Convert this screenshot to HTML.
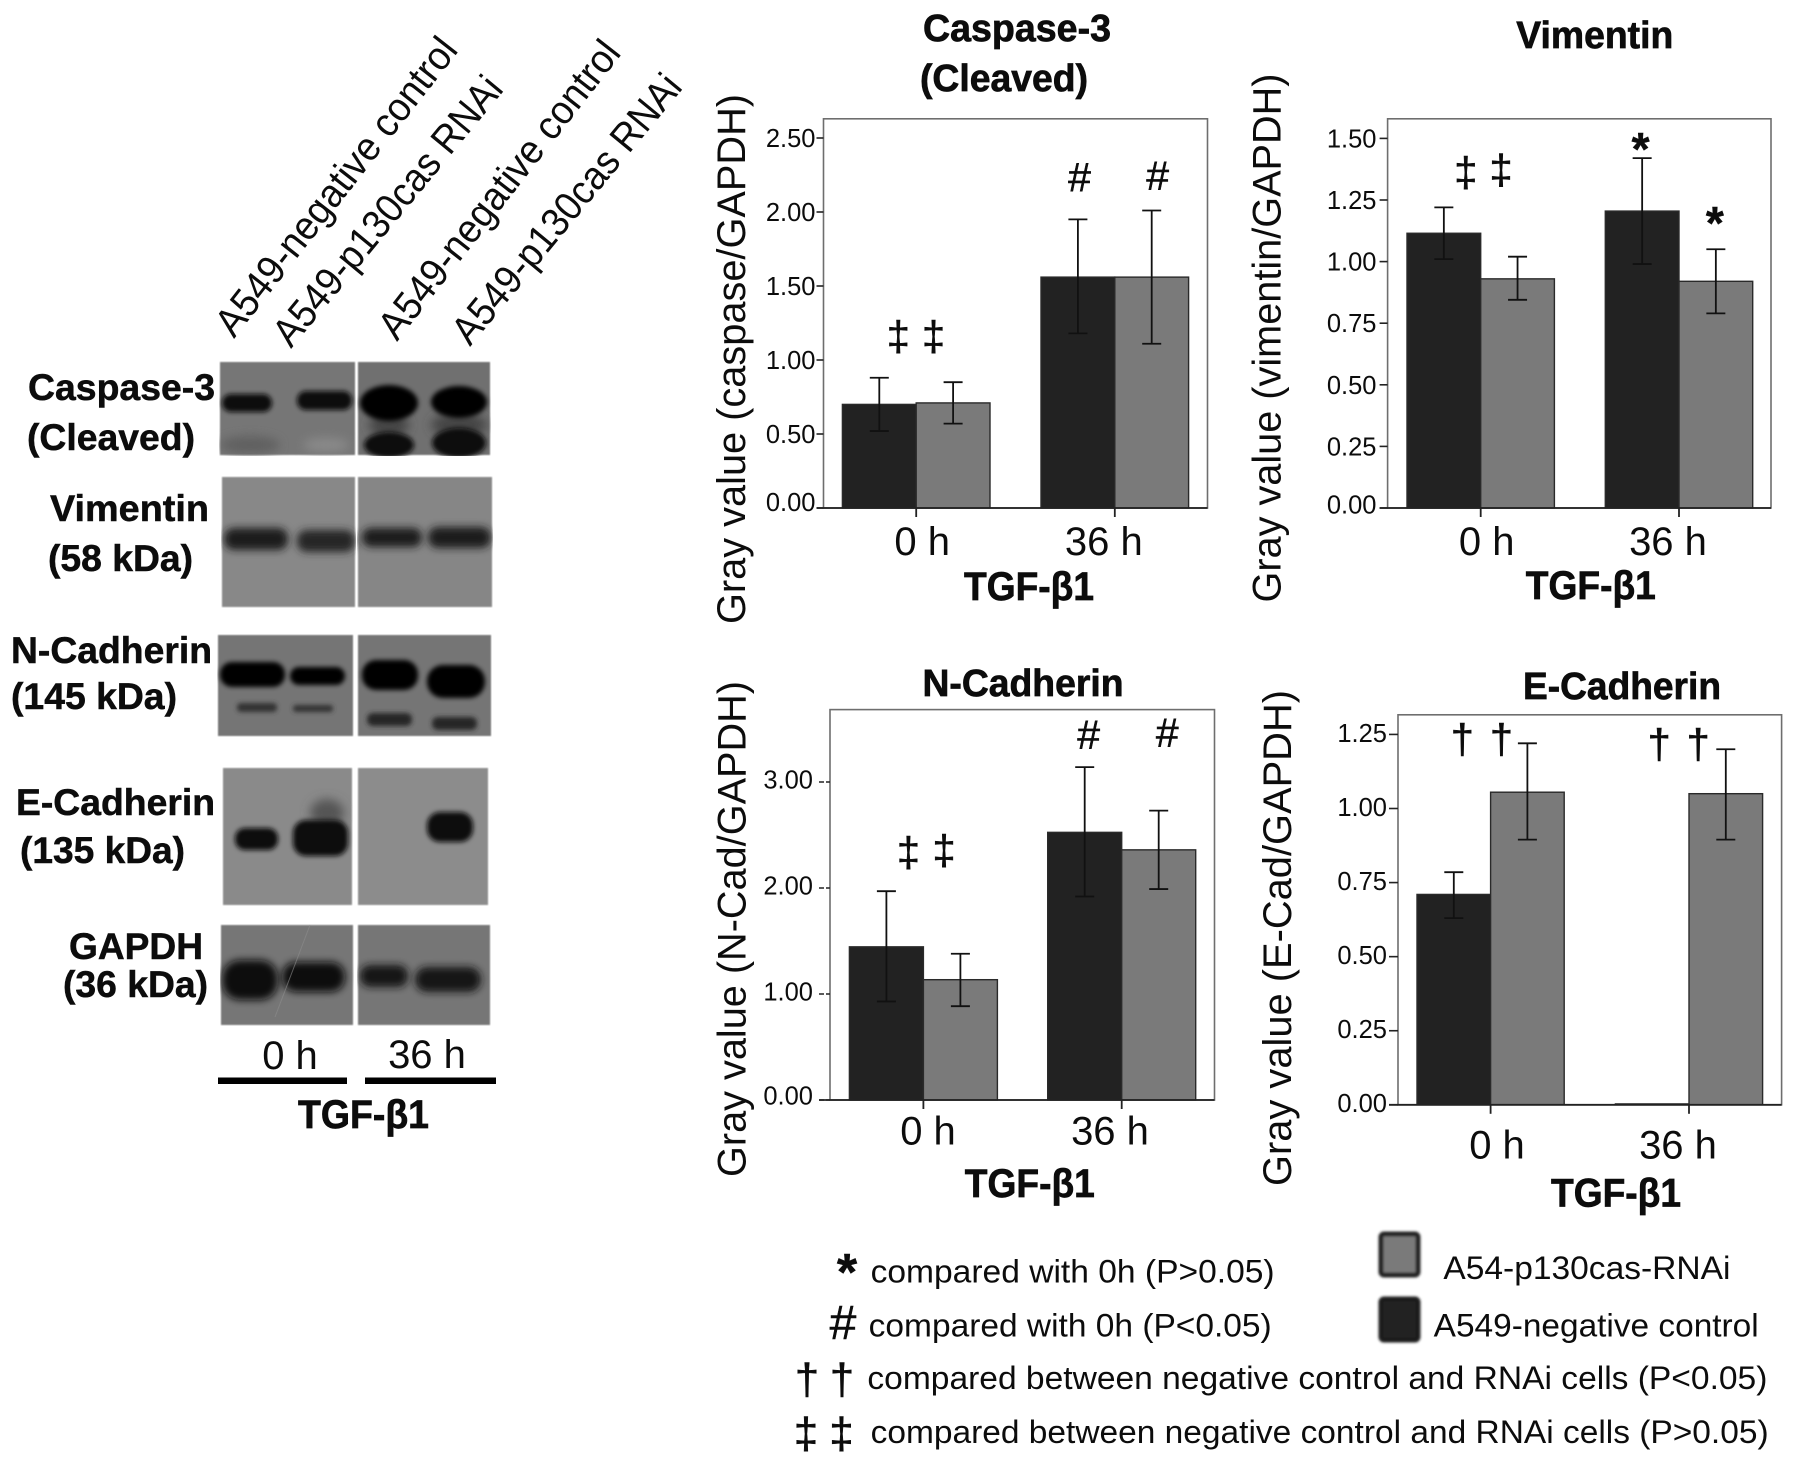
<!DOCTYPE html>
<html lang="en">
<head>
<meta charset="utf-8">
<title>Caspase-3, Vimentin, N-Cadherin and E-Cadherin western blots with quantification</title>
<style>
html,body{margin:0;padding:0;background:#fff;}
svg{display:block;}
text{font-family:"Liberation Sans",Arial,sans-serif;fill:#0c0c0c;}
.blab{font-weight:bold;font-size:37px;stroke:#0c0c0c;stroke-width:.5;}
.rot{font-size:40px;}
.leg{font-size:32px;}
.sym{font-size:44px;stroke:#0c0c0c;stroke-width:.5;}
.heavy{stroke:#0c0c0c;stroke-width:.7;}
</style>
</head>
<body>
<svg id="fig" width="1795" height="1460" viewBox="0 0 1795 1460" xmlns="http://www.w3.org/2000/svg">
<defs>
<filter id="b1" x="-40%" y="-80%" width="180%" height="260%"><feGaussianBlur stdDeviation="2.5"/></filter>
<filter id="b2" x="-40%" y="-80%" width="180%" height="260%"><feGaussianBlur stdDeviation="5"/></filter>
<filter id="b3" x="-40%" y="-80%" width="180%" height="260%"><feGaussianBlur stdDeviation="4"/></filter>
<filter id="b0" x="-5%" y="-5%" width="110%" height="110%"><feGaussianBlur stdDeviation="0.8"/></filter>
<filter id="bs" x="-20%" y="-20%" width="140%" height="140%"><feGaussianBlur stdDeviation="1.3"/></filter>
<clipPath id="cpCas"><rect x="219" y="361" width="137" height="95"/><rect x="357" y="361" width="134" height="95"/></clipPath>
<clipPath id="cpVim"><rect x="221" y="476" width="135" height="132"/><rect x="357" y="476" width="136" height="132"/></clipPath>
<clipPath id="cpNcad"><rect x="217" y="634" width="137" height="103"/><rect x="357" y="634" width="135" height="103"/></clipPath>
<clipPath id="cpEcad"><rect x="222" y="767" width="131" height="139"/><rect x="357" y="767" width="132" height="139"/></clipPath>
<clipPath id="cpGap"><rect x="220" y="924" width="134" height="102"/><rect x="357" y="924" width="134" height="102"/></clipPath>
</defs>
<rect width="1795" height="1460" fill="#fff"/>

<!-- lane headers -->
<g>
<text class="rot" transform="translate(234,339) rotate(-52)" textLength="366" lengthAdjust="spacingAndGlyphs">A549-negative control</text>
<text class="rot" transform="translate(291,349) rotate(-50.5)" textLength="336" lengthAdjust="spacingAndGlyphs">A549-p130cas RNAi</text>
<text class="rot" transform="translate(397,342) rotate(-52)" textLength="366" lengthAdjust="spacingAndGlyphs">A549-negative control</text>
<text class="rot" transform="translate(470,347) rotate(-50.5)" textLength="336" lengthAdjust="spacingAndGlyphs">A549-p130cas RNAi</text>
</g>

<!-- blot row labels -->
<g>
<text class="blab" x="28" y="400" textLength="187" lengthAdjust="spacingAndGlyphs">Caspase-3</text>
<text class="blab" x="27" y="450" textLength="168" lengthAdjust="spacingAndGlyphs">(Cleaved)</text>
<text class="blab" x="50" y="521" textLength="159" lengthAdjust="spacingAndGlyphs">Vimentin</text>
<text class="blab" x="48" y="571" textLength="145" lengthAdjust="spacingAndGlyphs">(58 kDa)</text>
<text class="blab" x="11" y="663" textLength="201" lengthAdjust="spacingAndGlyphs">N-Cadherin</text>
<text class="blab" x="11" y="709" textLength="166" lengthAdjust="spacingAndGlyphs">(145 kDa)</text>
<text class="blab" x="16" y="815" textLength="199" lengthAdjust="spacingAndGlyphs">E-Cadherin</text>
<text class="blab" x="20" y="863" textLength="165" lengthAdjust="spacingAndGlyphs">(135 kDa)</text>
<text class="blab" x="69" y="959" textLength="134" lengthAdjust="spacingAndGlyphs">GAPDH</text>
<text class="blab" x="63" y="997" textLength="145" lengthAdjust="spacingAndGlyphs">(36 kDa)</text>
</g>

<!-- blots -->
<g clip-path="url(#cpCas)">
<rect x="220" y="362" width="135" height="93" fill="#767676" filter="url(#b0)"/>
<rect x="358" y="362" width="132" height="93" fill="#707070" filter="url(#b0)"/>
<ellipse cx="250" cy="445" rx="30" ry="9" fill="#606060" filter="url(#b2)"/>
<ellipse cx="326" cy="445" rx="23" ry="7" fill="#8a8a8a" filter="url(#b2)"/>
<rect x="222" y="394" width="50" height="18" rx="9" fill="#0e0e0e" filter="url(#b1)"/>
<rect x="297" y="391" width="55" height="19" rx="9" fill="#0e0e0e" filter="url(#b1)"/>
<ellipse cx="389" cy="425" rx="20" ry="12" fill="#444" filter="url(#b2)"/>
<ellipse cx="459" cy="425" rx="28" ry="12" fill="#444" filter="url(#b2)"/>
<ellipse cx="389" cy="403" rx="29" ry="18" fill="#060606" filter="url(#b1)"/>
<ellipse cx="459" cy="402" rx="28" ry="16" fill="#060606" filter="url(#b1)"/>
<ellipse cx="389" cy="445" rx="25" ry="13" fill="#0c0c0c" filter="url(#b1)"/>
<ellipse cx="459" cy="443" rx="27" ry="15" fill="#0c0c0c" filter="url(#b1)"/>
</g>
<g clip-path="url(#cpVim)">
<rect x="222" y="477" width="133" height="130" fill="#888" filter="url(#b0)"/>
<rect x="358" y="477" width="134" height="130" fill="#868686" filter="url(#b0)"/>
<rect x="224" y="528" width="64" height="22" rx="10" fill="#1a1a1a" filter="url(#b3)"/>
<rect x="297" y="530" width="58" height="22" rx="10" fill="#262626" filter="url(#b3)"/>
<rect x="362" y="528" width="60" height="19" rx="9" fill="#1e1e1e" filter="url(#b3)"/>
<rect x="428" y="527" width="63" height="21" rx="10" fill="#1a1a1a" filter="url(#b3)"/>
</g>
<g clip-path="url(#cpNcad)">
<rect x="218" y="635" width="135" height="101" fill="#747474" filter="url(#b0)"/>
<rect x="358" y="635" width="133" height="101" fill="#747474" filter="url(#b0)"/>
<rect x="220" y="662" width="65" height="25" rx="12" fill="#060606" filter="url(#b1)"/>
<rect x="290" y="667" width="55" height="18" rx="9" fill="#060606" filter="url(#b1)"/>
<rect x="237" y="703" width="40" height="9" rx="4" fill="#333" filter="url(#b1)"/>
<rect x="293" y="705" width="40" height="7" rx="3" fill="#333" filter="url(#b1)"/>
<rect x="362" y="660" width="56" height="30" rx="14" fill="#060606" filter="url(#b1)"/>
<rect x="427" y="665" width="58" height="33" rx="16" fill="#060606" filter="url(#b1)"/>
<rect x="367" y="713" width="45" height="13" rx="6" fill="#252525" filter="url(#b1)"/>
<rect x="432" y="717" width="45" height="13" rx="6" fill="#252525" filter="url(#b1)"/>
</g>
<g clip-path="url(#cpEcad)">
<rect x="223" y="768" width="129" height="137" fill="#8a8a8a" filter="url(#b0)"/>
<rect x="358" y="768" width="130" height="137" fill="#8c8c8c" filter="url(#b0)"/>
<ellipse cx="327" cy="813" rx="17" ry="14" fill="#555" filter="url(#b2)"/>
<rect x="235" y="828" width="43" height="22" rx="10" fill="#0e0e0e" filter="url(#b1)"/>
<rect x="293" y="820" width="55" height="36" rx="13" fill="#0a0a0a" filter="url(#b1)"/>
<rect x="427" y="812" width="46" height="30" rx="13" fill="#0a0a0a" filter="url(#b1)"/>
</g>
<g clip-path="url(#cpGap)">
<rect x="221" y="925" width="132" height="100" fill="#767676" filter="url(#b0)"/>
<rect x="358" y="925" width="132" height="100" fill="#767676" filter="url(#b0)"/>
<rect x="222" y="960" width="56" height="40" rx="18" fill="#0e0e0e" filter="url(#b3)"/>
<rect x="282" y="962" width="63" height="30" rx="14" fill="#0e0e0e" filter="url(#b3)"/>
<rect x="360" y="965" width="48" height="22" rx="10" fill="#141414" filter="url(#b3)"/>
<rect x="415" y="967" width="66" height="25" rx="12" fill="#141414" filter="url(#b3)"/>
<line x1="310" y1="925" x2="275" y2="1017" stroke="#8e8e8e" stroke-width="1" opacity="0.6"/>
</g>

<!-- blot time axis -->
<g>
<text x="290" y="1069" font-size="40" text-anchor="middle">0 h</text>
<text x="427" y="1068" font-size="40" text-anchor="middle">36 h</text>
<rect x="218" y="1077.500" width="129" height="6.500" fill="#000"/>
<rect x="365" y="1077.500" width="131" height="6.500" fill="#000"/>
<text class="heavy" x="298" y="1128" font-size="40" font-weight="bold" textLength="131" lengthAdjust="spacingAndGlyphs">TGF-β1</text>
</g>

<g id="charts"></g>

<!-- key -->
<g>
<text class="sym" x="847" y="1290" font-weight="bold" style="font-size:52px" text-anchor="middle">*</text>
<text class="leg" x="870.600" y="1282.500" textLength="404" lengthAdjust="spacingAndGlyphs">compared with 0h (P&gt;0.05)</text>
<text class="sym" x="843" y="1339" style="font-size:48px" text-anchor="middle">#</text>
<text class="leg" x="868.700" y="1336.500" textLength="403" lengthAdjust="spacingAndGlyphs">compared with 0h (P&lt;0.05)</text>
<text class="sym" x="807" y="1394" text-anchor="middle">†</text>
<text class="sym" x="842" y="1394" text-anchor="middle">†</text>
<text class="leg" x="867.400" y="1389" textLength="900" lengthAdjust="spacingAndGlyphs">compared between negative control and RNAi cells (P&lt;0.05)</text>
<text class="sym" x="806" y="1448" text-anchor="middle">‡</text>
<text class="sym" x="841.500" y="1448" text-anchor="middle">‡</text>
<text class="leg" x="870.600" y="1443" textLength="898" lengthAdjust="spacingAndGlyphs">compared between negative control and RNAi cells (P&gt;0.05)</text>
<rect x="1381" y="1234" width="37" height="41" rx="3" fill="#7a7a7a" stroke="#222" stroke-width="5" filter="url(#bs)"/>
<text class="leg" x="1443.400" y="1279" textLength="287" lengthAdjust="spacingAndGlyphs">A54-p130cas-RNAi</text>
<rect x="1381" y="1299" width="37" height="41" rx="3" fill="#222" stroke="#1a1a1a" stroke-width="5" filter="url(#bs)"/>
<text class="leg" x="1433.700" y="1336.500" textLength="325" lengthAdjust="spacingAndGlyphs">A549-negative control</text>
</g>
</svg>

<script>
// ---- shared categories ----
const timeCategories = ['0 h', '36 h'];

// ---- Caspase-3 ----
const caspaseTicks = [0, 0.5, 1, 1.5, 2, 2.5];
const caspaseTickLabels = ['0.00', '0.50', '1.00', '1.50', '2.00', '2.50'];
const caspaseNegative = [0.70, 1.56];
const caspaseRnai = [0.71, 1.56];
const caspaseNegativeHigh = [0.88, 1.95];
const caspaseNegativeLow = [0.52, 1.18];
const caspaseRnaiHigh = [0.85, 2.01];
const caspaseRnaiLow = [0.57, 1.11];
const caspaseMarkSymbols = ['‡', '‡', '#', '#'];
const caspaseMarkGroups = [0, 0, 1, 1];
const caspaseMarkSeries = [0, 1, 0, 1];
const caspaseMarkLevels = [1.14, 1.14, 2.24, 2.25];

// ---- Vimentin ----
const vimentinTicks = [0, 0.25, 0.5, 0.75, 1, 1.25, 1.5];
const vimentinTickLabels = ['0.00', '0.25', '0.50', '0.75', '1.00', '1.25', '1.50'];
const vimentinNegative = [1.115, 1.205];
const vimentinRnai = [0.93, 0.92];
const vimentinNegativeHigh = [1.22, 1.42];
const vimentinNegativeLow = [1.01, 0.99];
const vimentinRnaiHigh = [1.02, 1.05];
const vimentinRnaiLow = [0.845, 0.79];
const vimentinMarkSymbols = ['‡', '‡', '*', '*'];
const vimentinMarkGroups = [0, 0, 1, 1];
const vimentinMarkSeries = [0, 1, 0, 1];
const vimentinMarkLevels = [1.35, 1.36, 1.48, 1.18];

// ---- N-Cadherin ----
const ncadTicks = [0, 1, 2, 3];
const ncadTickLabels = ['0.00', '1.00', '2.00', '3.00'];
const ncadNegative = [1.445, 2.525];
const ncadRnai = [1.135, 2.36];
const ncadNegativeHigh = [1.97, 3.14];
const ncadNegativeLow = [0.93, 1.92];
const ncadRnaiHigh = [1.38, 2.73];
const ncadRnaiLow = [0.885, 1.99];
const ncadMarkSymbols = ['‡', '‡', '#', '#'];
const ncadMarkGroups = [0, 0, 1, 1];
const ncadMarkSeries = [0, 1, 0, 1];
const ncadMarkLevels = [2.31, 2.33, 3.45, 3.47];

// ---- E-Cadherin ----
const ecadTicks = [0, 0.25, 0.5, 0.75, 1, 1.25];
const ecadTickLabels = ['0.00', '0.25', '0.50', '0.75', '1.00', '1.25'];
const ecadNegative = [0.71, 0.003];
const ecadRnai = [1.055, 1.05];
const ecadNegativeHigh = [0.785, null];
const ecadNegativeLow = [0.63, null];
const ecadRnaiHigh = [1.22, 1.2];
const ecadRnaiLow = [0.895, 0.895];
const ecadMarkSymbols = ['†', '†', '†', '†'];
const ecadMarkGroups = [0, 0, 1, 1];
const ecadMarkSeries = [0, 1, 0, 1];
const ecadMarkLevels = [1.224, 1.224, 1.207, 1.207];

const SVGNS = 'http://www.w3.org/2000/svg';
const DARK = '#222222';
const GRAY = '#7a7a7a';
const chartsRoot = document.getElementById('charts');

function mk(tag, parent, attrs, content) {
  const el = document.createElementNS(SVGNS, tag);
  Object.keys(attrs).forEach(function (k) { el.setAttribute(k, attrs[k]); });
  if (content !== undefined) el.textContent = content;
  parent.appendChild(el);
  return el;
}

function drawChart(c) {
  const g = mk('g', chartsRoot, {});
  
  

  const yAxis = function (v) { return c.bottom - v * c.unit; };
  const xAxis = function (i) { return c.firstGroup + c.groupStep * i; };
  const barCenter = function (i, s) { return xAxis(i) + (s === 0 ? -c.barW / 2 : c.barW / 2); };

  const frame = mk('rect', g, { x: c.left, y: c.top, width: c.right - c.left, height: c.bottom - c.top, fill: '#fff', stroke: '#6e6e6e', 'stroke-width': 1.6 });
  
  

  c.series.forEach(function (sr, s) {
    timeCategories.forEach(function (cat, i) {
      const top = yAxis(sr.values[i]);
      const bar = mk('rect', g, { x: xAxis(i) + (s === 0 ? -c.barW : 0), y: top, width: c.barW, height: c.bottom - top, fill: sr.fill, stroke: '#2a2a2a', 'stroke-width': 1.4 });
      
      
    });
  });

  c.series.forEach(function (sr, s) {
    timeCategories.forEach(function (cat, i) {
      if (sr.high[i] === null) return;
      const cx = barCenter(i, s);
      const yh = yAxis(sr.high[i]);
      const yl = yAxis(sr.low[i]);
      const d = 'M' + cx + ' ' + yh + 'V' + yl + 'M' + (cx - 9.5) + ' ' + yh + 'H' + (cx + 9.5) + 'M' + (cx - 9.5) + ' ' + yl + 'H' + (cx + 9.5);
      const err = mk('path', g, { d: d, fill: 'none', stroke: '#111', 'stroke-width': 1.8 });
      
      
    });
  });

  const base = mk('line', g, { x1: c.left - c.tickLen, x2: c.right, y1: c.bottom, y2: c.bottom, stroke: '#222', 'stroke-width': 1.8 });
  
  

  c.ticks.forEach(function (v, i) {
    const y = yAxis(v);
    const tick = mk('line', g, { x1: c.left - c.tickLen, x2: c.left, y1: y, y2: y, stroke: '#222', 'stroke-width': 1.6 });
    if (c.tickDash) tick.setAttribute('stroke-dasharray', c.tickDash);
    
    
    const lift = v === 0 ? c.zeroLift : 0;
    const label = mk('text', g, { x: c.labelRight, y: y + 9 - lift - (c.labelLift || 0), 'font-size': 25.5, 'text-anchor': 'end' }, c.tickLabels[i]);
    
    
  });

  timeCategories.forEach(function (cat, i) {
    const x = xAxis(i);
    const tick = mk('line', g, { x1: x, x2: x, y1: c.bottom, y2: c.bottom + 9, stroke: '#222', 'stroke-width': 1.8 });
    
    
    const label = mk('text', g, { x: x + c.catNudge[i], y: c.catBaseline, 'font-size': 40, 'text-anchor': 'middle' }, cat);
    
    
  });

  const glyphOffset = { '‡': 0.27, '†': 0.27, '#': 0.35, '*': 0.47 };
  const glyphSize = { '‡': 42, '†': 42, '#': 41, '*': 46 };
  c.marks.symbols.forEach(function (sym, i) {
    const cx = barCenter(c.marks.groups[i], c.marks.series[i]) + c.markNudge[i];
    const fs = glyphSize[sym];
    const attrs = { x: cx, y: yAxis(c.marks.levels[i]) + fs * glyphOffset[sym], 'font-size': fs, 'text-anchor': 'middle', stroke: '#0c0c0c', 'stroke-width': 0.5 };
    if (sym === '*') attrs['font-weight'] = 'bold';
    const mark = mk('text', g, attrs, sym);
    
    
  });

  c.titles.forEach(function (t, i) {
    const title = mk('text', g, { class: 'heavy', x: t.x, y: t.y, 'font-size': 38, 'font-weight': 'bold', 'text-anchor': 'middle', textLength: t.w, lengthAdjust: 'spacingAndGlyphs' }, t.text);
    
    
  });

  const yTitle = mk('text', g, { transform: 'translate(' + c.yTitle.x + ',' + c.yTitle.y + ') rotate(-90)', 'font-size': 40, 'text-anchor': 'middle', textLength: c.yTitle.w, lengthAdjust: 'spacingAndGlyphs' }, c.yTitle.text);
  
  

  const xTitle = mk('text', g, { class: 'heavy', x: c.xTitle.x, y: c.xTitle.y, 'font-size': 40, 'font-weight': 'bold', 'text-anchor': 'middle', textLength: 130, lengthAdjust: 'spacingAndGlyphs' }, 'TGF-β1');
  
  
}

drawChart({
  id: 'caspase', left: 823.5, right: 1207.5, top: 118.8, bottom: 508, unit: 148,
  firstGroup: 916.2, groupStep: 198.6, barW: 73.8, tickLen: 7, labelRight: 815.5, zeroLift: 6,
  ticks: caspaseTicks, tickLabels: caspaseTickLabels,
  series: [
    { key: 'negative', fill: DARK, values: caspaseNegative, high: caspaseNegativeHigh, low: caspaseNegativeLow },
    { key: 'rnai', fill: GRAY, values: caspaseRnai, high: caspaseRnaiHigh, low: caspaseRnaiLow }
  ],
  marks: { symbols: caspaseMarkSymbols, groups: caspaseMarkGroups, series: caspaseMarkSeries, levels: caspaseMarkLevels },
  markNudge: [19, -19.6, 1.6, 6], catNudge: [6, -11], catBaseline: 555,
  titles: [{ text: 'Caspase-3', x: 1017, y: 41, w: 188 }, { text: '(Cleaved)', x: 1004, y: 91, w: 168 }],
  yTitle: { text: 'Gray value (caspase/GAPDH)', x: 745, y: 359, w: 530 },
  xTitle: { x: 1029, y: 600 }
});

drawChart({
  id: 'vimentin', left: 1387.6, right: 1771, top: 118.8, bottom: 508, unit: 246.4,
  firstGroup: 1480.7, groupStep: 198.3, barW: 73.7, tickLen: 8, labelRight: 1376.5, zeroLift: 3.5,
  ticks: vimentinTicks, tickLabels: vimentinTickLabels,
  series: [
    { key: 'negative', fill: DARK, values: vimentinNegative, high: vimentinNegativeHigh, low: vimentinNegativeLow },
    { key: 'rnai', fill: GRAY, values: vimentinRnai, high: vimentinRnaiHigh, low: vimentinRnaiLow }
  ],
  marks: { symbols: vimentinMarkSymbols, groups: vimentinMarkGroups, series: vimentinMarkSeries, levels: vimentinMarkLevels },
  markNudge: [22, -16.5, -1.6, -1], catNudge: [6, -11], catBaseline: 555,
  titles: [{ text: 'Vimentin', x: 1594.8, y: 48, w: 157 }],
  yTitle: { text: 'Gray value (vimentin/GAPDH)', x: 1280.7, y: 338, w: 529 },
  xTitle: { x: 1590.8, y: 599 }
});

drawChart({
  id: 'ncadherin', left: 830, right: 1214.5, top: 709.6, bottom: 1100, unit: 106,
  firstGroup: 923.4, groupStep: 198.3, barW: 74, tickLen: 11, tickDash: '5 2 4', labelRight: 813, zeroLift: 2, labelLift: 2.5,
  ticks: ncadTicks, tickLabels: ncadTickLabels,
  series: [
    { key: 'negative', fill: DARK, values: ncadNegative, high: ncadNegativeHigh, low: ncadNegativeLow },
    { key: 'rnai', fill: GRAY, values: ncadRnai, high: ncadRnaiHigh, low: ncadRnaiLow }
  ],
  marks: { symbols: ncadMarkSymbols, groups: ncadMarkGroups, series: ncadMarkSeries, levels: ncadMarkLevels },
  markNudge: [22, -16.4, 4, 8.6], catNudge: [4.6, -11.7], catBaseline: 1144.5,
  titles: [{ text: 'N-Cadherin', x: 1023, y: 696, w: 201 }],
  yTitle: { text: 'Gray value (N-Cad/GAPDH)', x: 745.5, y: 929, w: 496 },
  xTitle: { x: 1029.8, y: 1197 }
});

drawChart({
  id: 'ecadherin', left: 1398, right: 1781.6, top: 714.8, bottom: 1104.8, unit: 296.3,
  firstGroup: 1490.6, groupStep: 198.4, barW: 73.6, tickLen: 9, labelRight: 1387, zeroLift: 0.5, labelLift: 1.5,
  ticks: ecadTicks, tickLabels: ecadTickLabels,
  series: [
    { key: 'negative', fill: DARK, values: ecadNegative, high: ecadNegativeHigh, low: ecadNegativeLow },
    { key: 'rnai', fill: GRAY, values: ecadRnai, high: ecadRnaiHigh, low: ecadRnaiLow }
  ],
  marks: { symbols: ecadMarkSymbols, groups: ecadMarkGroups, series: ecadMarkSeries, levels: ecadMarkLevels },
  markNudge: [8.5, -26, 7, -27.6], catNudge: [6.4, -11], catBaseline: 1158.5,
  titles: [{ text: 'E-Cadherin', x: 1622, y: 699, w: 198 }],
  yTitle: { text: 'Gray value (E-Cad/GAPDH)', x: 1291, y: 938, w: 496 },
  xTitle: { x: 1616, y: 1206.7 }
});
</script>
</body>
</html>
